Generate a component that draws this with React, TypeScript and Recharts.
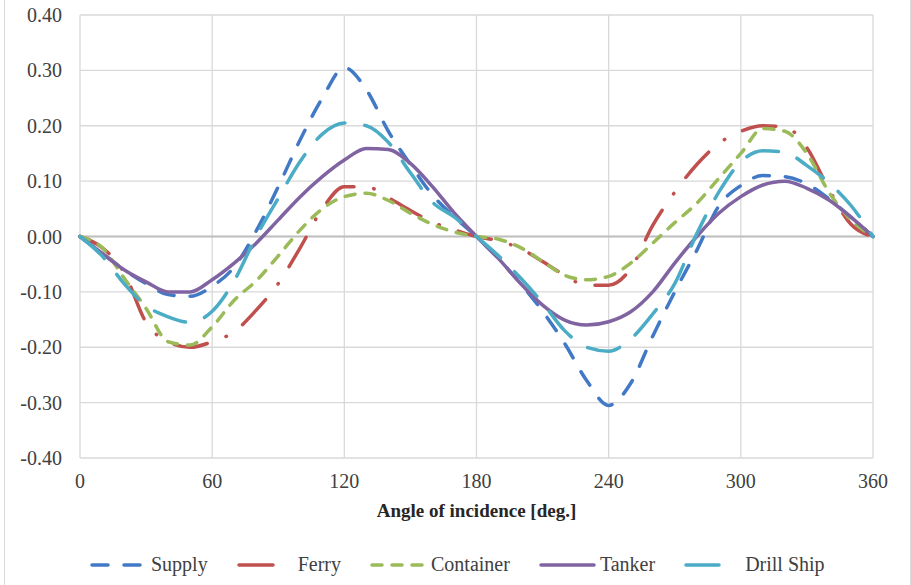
import { LineChart, Line, XAxis, YAxis, CartesianGrid, ReferenceLine } from "recharts";

// angle of incidence in degrees
const angles = [
  0, 10, 20, 30, 40, 50, 60, 70, 80, 90, 100, 110, 120, 130, 140, 150, 160, 170, 180,
  190, 200, 210, 220, 230, 240, 250, 260, 270, 280, 290, 300, 310, 320, 330, 340, 350, 360,
];

const supply = [
  0, -0.03, -0.06, -0.085, -0.105, -0.108, -0.09, -0.055, 0.01, 0.09, 0.175, 0.25, 0.305, 0.265, 0.19, 0.13, 0.075, 0.035, 0,
  -0.04, -0.085, -0.135, -0.193, -0.26, -0.305, -0.265, -0.18, -0.1, -0.025, 0.055, 0.092, 0.11, 0.108, 0.095, 0.068, 0.035, 0,
];
const ferry = [
  0, -0.02, -0.065, -0.155, -0.19, -0.2, -0.19, -0.172, -0.133, -0.085, -0.02, 0.05, 0.09, 0.09, 0.07, 0.047, 0.026, 0.012, 0,
  -0.008, -0.022, -0.045, -0.07, -0.088, -0.088, -0.058, 0.02, 0.08, 0.13, 0.168, 0.19, 0.2, 0.198, 0.16, 0.085, 0.022, 0,
];
const container = [
  0, -0.02, -0.075, -0.13, -0.19, -0.196, -0.163, -0.115, -0.08, -0.035, 0.012, 0.05, 0.072, 0.078, 0.065, 0.042, 0.022, 0.008, 0,
  -0.005, -0.02, -0.045, -0.07, -0.078, -0.072, -0.048, -0.012, 0.025, 0.06, 0.105, 0.15, 0.195, 0.19, 0.15, 0.08, 0.03, 0,
];
const tanker = [
  0, -0.03, -0.06, -0.082, -0.1, -0.1, -0.078, -0.048, -0.012, 0.03, 0.072, 0.108, 0.138, 0.159, 0.157, 0.132, 0.09, 0.042, 0,
  -0.04, -0.085, -0.124, -0.151, -0.16, -0.154, -0.136, -0.1, -0.048, 0, 0.042, 0.072, 0.093, 0.1, 0.087, 0.066, 0.035, 0,
];
const drillShip = [
  0, -0.035, -0.085, -0.125, -0.145, -0.155, -0.135, -0.08, 0, 0.069, 0.136, 0.185, 0.205, 0.2, 0.17, 0.115, 0.062, 0.035, 0,
  -0.035, -0.075, -0.12, -0.17, -0.2, -0.207, -0.185, -0.14, -0.085, 0.005, 0.08, 0.135, 0.155, 0.152, 0.128, 0.097, 0.056, 0,
];

const xTicks = [0, 60, 120, 180, 240, 300, 360];
const yTicks = [-0.4, -0.3, -0.2, -0.1, 0, 0.1, 0.2, 0.3, 0.4];

const data = angles.map((angle, i) => ({
  angle,
  supply: supply[i],
  ferry: ferry[i],
  container: container[i],
  tanker: tanker[i],
  drill: drillShip[i],
}));

const series = [
  { key: "supply", name: "Supply", color: "#4279C6", dash: "16 16" },
  { key: "ferry", name: "Ferry", color: "#C0504D", dash: "34 20 0.5 20" },
  { key: "container", name: "Container", color: "#9BBB59", dash: "10 10" },
  { key: "tanker", name: "Tanker", color: "#8064A2", dash: undefined },
  { key: "drill", name: "Drill Ship", color: "#4BACC6", dash: "33 20" },
];

const font = "'Liberation Serif', 'Times New Roman', serif";

const App = () => {
  return (
    <div
      style={{
        position: "absolute",
        left: 0,
        top: 0,
        width: 911,
        height: 585,
        background: "#fff",
        overflow: "hidden",
        fontFamily: font,
      }}
    >
      <div
        style={{
          position: "absolute",
          left: 4,
          top: -2,
          width: 905,
          height: 600,
          border: "1px solid #D9D9D9",
        }}
      />
      <LineChart
        width={911}
        height={585}
        data={data}
        margin={{ top: 15, right: 38, left: 0, bottom: 63 }}
        style={{ position: "absolute", left: 0, top: 0 }}
      >
        <CartesianGrid stroke="#D9D9D9" strokeWidth={1.3} />
        <XAxis
          dataKey="angle"
          type="number"
          domain={[0, 360]}
          ticks={xTicks}
          height={64}
          tickSize={0}
          tickMargin={16}
          axisLine={false}
          tick={{ fill: "#404040", fontSize: 20, fontFamily: font }}
          label={{
            value: "Angle of incidence [deg.]",
            position: "insideBottom",
            offset: 5,
            fill: "#262626",
            fontSize: 19,
            fontWeight: "bold",
            fontFamily: font,
          }}
        />
        <YAxis
          type="number"
          domain={[-0.4, 0.4]}
          ticks={yTicks}
          width={80}
          tickSize={0}
          tickMargin={18}
          axisLine={false}
          tickFormatter={(v: number) => v.toFixed(2)}
          tick={{ fill: "#404040", fontSize: 20, fontFamily: font }}
        />
        <ReferenceLine y={0} stroke="#BFBFBF" strokeWidth={2} />
        {series.map((s) => (
          <Line
            key={s.key}
            dataKey={s.key}
            name={s.name}
            type="monotone"
            stroke={s.color}
            strokeWidth={3.5}
            strokeDasharray={s.dash}
            strokeLinecap="round"
            dot={false}
            activeDot={false}
            isAnimationActive={false}
          />
        ))}
      </LineChart>
      <div
        style={{
          position: "absolute",
          left: 90,
          top: 553,
          display: "flex",
          alignItems: "center",
          gap: 29,
          fontSize: 20,
          color: "#404040",
          whiteSpace: "nowrap",
        }}
      >
        {series.map((s) => (
          <div key={s.key} style={{ display: "flex", alignItems: "center" }}>
            <svg width={57} height={12} style={{ marginRight: 4 }}>
              <line
                x1={2}
                y1={6}
                x2={55}
                y2={6}
                stroke={s.color}
                strokeWidth={3.5}
                strokeDasharray={s.dash}
                strokeLinecap="round"
              />
            </svg>
            <span>{s.name}</span>
          </div>
        ))}
      </div>
    </div>
  );
};

export default App;
